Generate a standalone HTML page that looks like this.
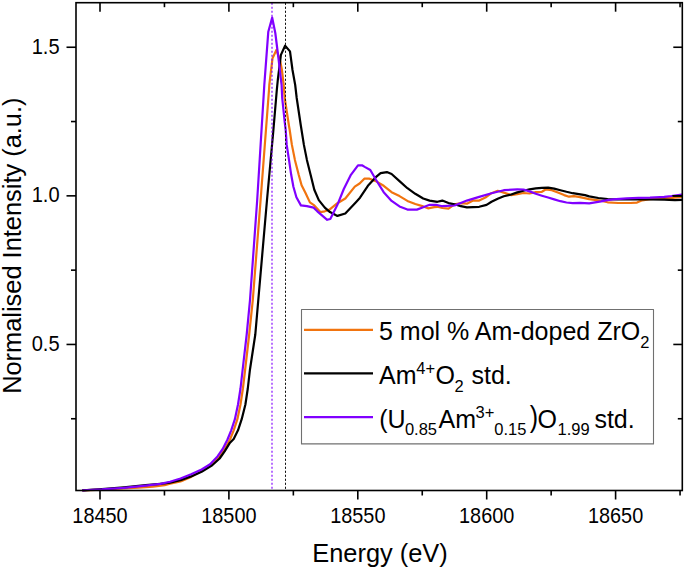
<!DOCTYPE html>
<html><head><meta charset="utf-8"><style>
html,body{margin:0;padding:0;background:#fff;width:685px;height:569px;overflow:hidden}
svg{display:block}
text{font-family:"Liberation Sans",sans-serif;fill:#000}
</style></head><body>
<svg width="685" height="569" viewBox="0 0 685 569">
<rect x="0" y="0" width="685" height="569" fill="#fff"/>
<g fill="none" stroke-width="2.2" stroke-linejoin="round" stroke-linecap="round">
<polyline points="83.0,490.4 101.9,489.6 123.8,488.4 138.4,487.6 153.0,486.6 164.7,485.2 170.0,483.8 180.5,481.5 191.1,476.9 201.6,471.1 212.2,463.7 220.6,455.3 225.9,446.9 230.0,439.5 233.7,430.3 237.4,419.2 240.5,404.5 242.9,388.5 245.1,370.0 249.2,334.5 252.8,300.0 260.6,200.0 269.0,90.0 269.3,85.0 272.5,58.4 276.4,50.0 280.2,61.0 281.9,70.0 283.7,85.0 284.7,98.0 289.0,126.0 289.7,130.0 291.9,144.9 294.9,159.9 298.7,174.8 301.6,185.2 305.4,192.7 309.9,202.4 314.3,205.4 320.3,212.1 324.8,211.3 329.5,209.6 337.4,203.2 345.3,198.5 354.8,186.6 359.6,183.5 364.3,178.7 369.5,178.7 375.8,181.1 383.7,185.8 391.6,192.2 399.5,196.1 407.4,200.9 415.3,204.0 423.2,206.4 428.0,208.3 434.3,207.2 437.4,206.8 442.3,208.0 448.5,208.6 454.6,204.3 460.8,203.1 466.9,203.7 473.1,200.6 479.2,200.6 485.4,197.5 491.5,193.2 497.7,190.8 503.8,192.6 511.2,195.1 517.3,194.2 523.5,193.0 529.6,193.5 535.8,192.2 541.9,191.8 545.6,189.5 551.8,190.2 557.9,192.6 564.1,195.1 569.0,196.7 573.9,196.1 578.8,196.9 589.2,199.1 598.4,200.3 607.6,202.3 618.3,203.0 630.6,203.0 637.0,202.6 642.3,200.3 650.0,199.1 660.0,198.5 666.0,198.0 672.0,197.8 681.7,197.0" stroke="#f1740f"/>
<polyline points="83.0,490.4 101.9,489.2 123.8,487.4 145.7,485.2 160.3,483.8 170.0,482.7 180.5,480.1 191.1,476.4 201.6,471.7 212.2,465.3 219.6,458.5 224.8,451.1 230.0,442.7 233.7,439.0 238.0,430.3 241.7,419.2 245.4,404.5 247.8,388.5 249.9,370.0 255.3,334.5 258.3,300.0 267.0,200.0 273.4,130.0 276.8,90.0 277.8,80.0 280.9,54.9 285.1,45.7 290.0,51.4 292.5,70.0 295.2,85.0 296.7,98.0 300.9,126.0 303.9,144.9 306.9,159.9 310.6,174.8 314.3,189.7 318.8,200.1 324.8,207.6 330.0,212.1 337.4,215.9 345.3,213.5 356.4,201.7 360.0,197.7 367.9,185.8 375.8,177.2 380.6,173.2 386.9,172.1 391.6,174.0 399.5,181.1 407.4,188.2 415.3,193.8 423.2,198.5 429.6,200.6 437.4,201.8 442.3,200.6 448.5,203.1 454.6,204.3 460.8,206.2 466.9,207.4 479.2,206.8 486.6,204.9 491.5,201.8 497.7,198.8 503.8,196.3 511.2,194.5 517.3,192.4 523.5,190.8 529.6,189.3 535.8,188.3 541.9,187.8 548.1,187.7 554.2,188.6 560.4,190.2 566.5,191.8 572.7,193.2 578.8,194.2 585.0,195.1 589.2,196.4 598.4,198.0 607.6,199.1 618.3,199.3 630.6,199.3 649.0,199.5 664.3,199.6 669.3,199.8 675.0,200.1 681.7,199.9" stroke="#000"/>
<polyline points="83.0,490.4 87.3,490.0 101.9,489.4 123.8,487.8 145.7,485.6 160.3,483.9 170.0,481.7 180.5,478.5 191.1,474.3 201.6,469.5 210.1,464.3 217.5,456.4 222.7,449.0 227.5,439.5 231.2,430.3 234.9,419.2 238.0,404.5 240.5,388.5 242.6,370.0 246.7,334.5 250.0,300.0 257.2,200.0 264.0,90.0 264.3,85.0 268.3,31.7 272.2,17.6 275.3,33.0 278.8,61.0 279.8,70.0 281.6,85.0 282.2,98.0 284.7,122.0 285.7,130.0 286.7,144.9 289.0,159.9 291.2,174.8 293.4,186.7 296.4,197.2 300.9,205.4 306.9,206.1 313.6,207.6 317.3,211.3 320.8,214.3 327.2,219.8 330.3,219.0 337.4,204.8 343.8,189.0 350.9,174.8 358.0,165.3 362.0,165.3 364.7,166.9 370.3,170.0 375.8,179.5 383.7,192.2 391.6,200.9 399.5,206.4 407.4,209.6 416.9,209.6 423.2,207.2 429.6,204.8 435.9,204.8 442.3,206.2 454.6,205.5 466.9,200.6 479.2,196.9 491.5,193.2 503.8,190.2 517.3,189.3 523.5,189.5 529.6,191.4 535.8,193.8 541.9,195.7 548.1,197.5 554.2,199.4 560.4,201.2 566.5,202.5 572.7,203.1 580.0,202.8 589.2,203.4 601.0,201.4 606.0,200.4 612.7,199.3 626.7,198.3 638.4,197.9 650.0,197.6 660.0,197.1 664.2,196.8 671.5,196.0 681.7,194.5" stroke="#8000ff"/>
<polyline points="673.0,195.9 681.7,195.9" stroke="#000" stroke-width="1.6"/>
</g>
<line x1="272" y1="2.7" x2="272" y2="490.5" stroke="#8000ff" stroke-width="1.6" stroke-dasharray="2 2" opacity="0.7"/>
<line x1="285.5" y1="2.7" x2="285.5" y2="490.5" stroke="#111" stroke-width="1.0" stroke-dasharray="2.2 1.8"/>
<g stroke="#000" stroke-width="1.6" fill="none">
<rect x="76" y="2.7" width="606.3" height="487.8"/>
<line x1="100.00" y1="490.5" x2="100.00" y2="499.5"/><line x1="100.00" y1="2.7" x2="100.00" y2="11.7"/><line x1="164.45" y1="490.5" x2="164.45" y2="495.5"/><line x1="164.45" y1="2.7" x2="164.45" y2="7.2"/><line x1="228.90" y1="490.5" x2="228.90" y2="499.5"/><line x1="228.90" y1="2.7" x2="228.90" y2="11.7"/><line x1="293.35" y1="490.5" x2="293.35" y2="495.5"/><line x1="293.35" y1="2.7" x2="293.35" y2="7.2"/><line x1="357.80" y1="490.5" x2="357.80" y2="499.5"/><line x1="357.80" y1="2.7" x2="357.80" y2="11.7"/><line x1="422.25" y1="490.5" x2="422.25" y2="495.5"/><line x1="422.25" y1="2.7" x2="422.25" y2="7.2"/><line x1="486.70" y1="490.5" x2="486.70" y2="499.5"/><line x1="486.70" y1="2.7" x2="486.70" y2="11.7"/><line x1="551.15" y1="490.5" x2="551.15" y2="495.5"/><line x1="551.15" y1="2.7" x2="551.15" y2="7.2"/><line x1="615.60" y1="490.5" x2="615.60" y2="499.5"/><line x1="615.60" y1="2.7" x2="615.60" y2="11.7"/><line x1="680.05" y1="490.5" x2="680.05" y2="495.5"/><line x1="680.05" y1="2.7" x2="680.05" y2="7.2"/><line x1="76" y1="418.75" x2="71" y2="418.75"/><line x1="682.3" y1="418.75" x2="677.8" y2="418.75"/><line x1="76" y1="344.45" x2="66.5" y2="344.45"/><line x1="682.3" y1="344.45" x2="673.3" y2="344.45"/><line x1="76" y1="270.15" x2="71" y2="270.15"/><line x1="682.3" y1="270.15" x2="677.8" y2="270.15"/><line x1="76" y1="195.85" x2="66.5" y2="195.85"/><line x1="682.3" y1="195.85" x2="673.3" y2="195.85"/><line x1="76" y1="121.55" x2="71" y2="121.55"/><line x1="682.3" y1="121.55" x2="677.8" y2="121.55"/><line x1="76" y1="47.25" x2="66.5" y2="47.25"/><line x1="682.3" y1="47.25" x2="673.3" y2="47.25"/>
</g>
<g font-size="20.5"><text transform="translate(100.00,522.8) scale(0.97,1.065)" text-anchor="middle">18450</text><text transform="translate(228.90,522.8) scale(0.97,1.065)" text-anchor="middle">18500</text><text transform="translate(357.80,522.8) scale(0.97,1.065)" text-anchor="middle">18550</text><text transform="translate(486.70,522.8) scale(0.97,1.065)" text-anchor="middle">18600</text><text transform="translate(615.60,522.8) scale(0.97,1.065)" text-anchor="middle">18650</text><text transform="translate(59.6,351.05) scale(0.98,1.065)" text-anchor="end">0.5</text><text transform="translate(59.6,202.45) scale(0.98,1.065)" text-anchor="end">1.0</text><text transform="translate(59.6,53.85) scale(0.98,1.065)" text-anchor="end">1.5</text></g>
<text x="380" y="561.9" font-size="25.4" text-anchor="middle">Energy (eV)</text>
<text transform="translate(20.5,245.7) rotate(-90)" font-size="25.4" text-anchor="middle">Normalised Intensity (a.u.)</text>
<rect x="301.5" y="309.5" width="352" height="134.4" fill="#fff" stroke="#707070" stroke-width="1.1" stroke-linejoin="round"/>
<g stroke-width="2.2">
<line x1="304" y1="329.9" x2="373" y2="329.9" stroke="#f1740f"/>
<line x1="304" y1="373.4" x2="373" y2="373.4" stroke="#000"/>
<line x1="304" y1="417.2" x2="373" y2="417.2" stroke="#8000ff"/>
</g>
<text x="379" y="340.4" font-size="25">5 mol % Am-doped ZrO</text><text x="640.2" y="347.79999999999995" font-size="16.5">2</text><text x="379.1" y="384.2" font-size="25">Am</text><text x="416.3" y="374.0" font-size="16.5">4+</text><text x="435.5" y="384.2" font-size="25">O</text><text x="454.6" y="392.0" font-size="16.5">2</text><text x="471.5" y="384.2" font-size="25">std.</text><text x="379.3" y="427.7" font-size="25">(U</text><text x="404.9" y="434.8" font-size="16.5">0.85</text><text x="438.6" y="427.7" font-size="25">Am</text><text x="475.5" y="417.7" font-size="16.5">3+</text><text x="494.3" y="434.8" font-size="16.5">0.15</text><text transform="translate(529.7,427.09999999999997) scale(1,1.18)" font-size="25">)</text><text x="537.6" y="427.7" font-size="25">O</text><text x="557.5" y="434.8" font-size="16.5">1.99</text><text x="594.4" y="427.7" font-size="25">std.</text>
</svg>
</body></html>
